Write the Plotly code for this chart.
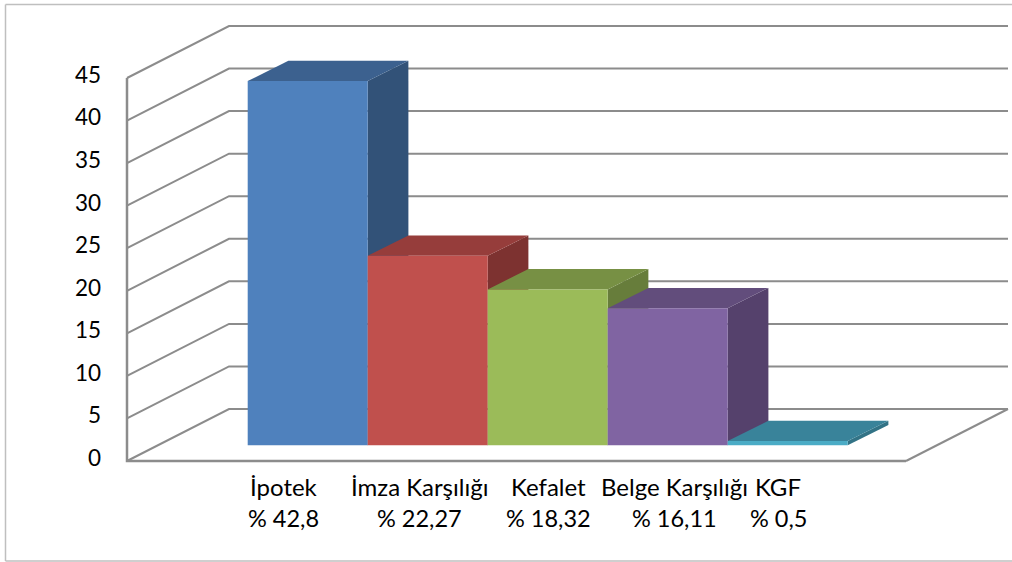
import plotly.graph_objects as go

# Teminat türlerine göre dağılım
categories = ["İpotek", "İmza Karşılığı", "Kefalet", "Belge Karşılığı", "KGF"]
share_labels = ["% 42,8", "% 22,27", "% 18,32", "% 16,11", "% 0,5"]
values = [42.8, 22.27, 18.32, 16.11, 0.5]
y_ticks = [0, 5, 10, 15, 20, 25, 30, 35, 40, 45]

front_colors = ["#4F81BD", "#C0504D", "#9BBB59", "#8064A2", "#4BACC6"]
top_colors = ["#3C618F", "#963D3B", "#779044", "#624D7C", "#39839A"]
side_colors = ["#325278", "#7D3230", "#677D3B", "#55416C", "#327386"]

# Category slots are one unit wide; label centres sit a little off the slots
label_centres = [0.30, 1.43, 2.51, 3.56, 4.42]

W, H = 1012, 562
AXIS_X0, AXIS_X1 = 127, 906
AXIS_Y0, AXIS_Y45 = 461, 78
SLOT_PX = 120
SLOT_START_PX = 247.7
PX_PER_VALUE = (AXIS_Y0 - AXIS_Y45) / 45

# The axes span the full canvas so the receding walls stay inside the plotting area
x_range = [-SLOT_START_PX / SLOT_PX, (W - SLOT_START_PX) / SLOT_PX]
y_range = [(AXIS_Y0 - H) / PX_PER_VALUE, AXIS_Y0 / PX_PER_VALUE]
front_left = (AXIS_X0 - SLOT_START_PX) / SLOT_PX
front_right = (AXIS_X1 - SLOT_START_PX) / SLOT_PX

# Oblique projection: how far the depth direction shifts things, in axis units
WALL_DX, WALL_DY = 102 / SLOT_PX, 52 / PX_PER_VALUE
BAR_DX, BAR_DY = 40.7 / SLOT_PX, 20.3 / PX_PER_VALUE
BAR_BASE = (AXIS_Y0 - 445.3) / PX_PER_VALUE

GRID = "#8C8C8C"
fig = go.Figure()

# Gridlines run along the side wall, then across the back wall
wall_x, wall_y = [], []
for t in y_ticks:
    wall_x += [front_left, front_left + WALL_DX, front_right + WALL_DX, None]
    wall_y += [t, t + WALL_DY, t + WALL_DY, None]
wall_x += [front_right, front_right + WALL_DX]
wall_y += [0, WALL_DY]
fig.add_trace(go.Scatter(x=wall_x, y=wall_y, mode="lines",
                         line=dict(color=GRID, width=2), hoverinfo="skip", showlegend=False))

# Value axis and the front edge of the floor
fig.add_trace(go.Scatter(x=[front_left, front_left, front_right], y=[y_ticks[-1], 0, 0], mode="lines",
                         line=dict(color=GRID, width=2.5), hoverinfo="skip", showlegend=False))

# Side and top faces, left to right so that later bars overlap earlier ones
for i, v in enumerate(values):
    top = BAR_BASE + v
    x0, x1 = i, i + 1
    fig.add_trace(go.Scatter(
        x=[x1, x1 + BAR_DX, x1 + BAR_DX, x1, x1],
        y=[BAR_BASE, BAR_BASE + BAR_DY, top + BAR_DY, top, BAR_BASE],
        mode="lines", fill="toself", fillcolor=side_colors[i],
        line=dict(width=0), hoverinfo="skip", showlegend=False))
    fig.add_trace(go.Scatter(
        x=[x0, x0 + BAR_DX, x1 + BAR_DX, x1, x0],
        y=[top, top + BAR_DY, top + BAR_DY, top, top],
        mode="lines", fill="toself", fillcolor=top_colors[i],
        line=dict(width=0), hoverinfo="skip", showlegend=False))

# Front faces on an overlaying pair of axes, above all the side and top faces
fig.add_trace(go.Bar(x=[i + 0.5 for i in range(len(values))], y=values, base=BAR_BASE,
                     width=1, marker=dict(color=front_colors, line=dict(width=0)),
                     xaxis="x2", yaxis="y2", showlegend=False))

annotations = []
for name, share, cx in zip(categories, share_labels, label_centres):
    for text, py, size in ((name, 486, 24), (share, 517.5, 23.5)):
        annotations.append(dict(x=cx, xref="x", y=(H - py) / H, yref="paper", text=text,
                                showarrow=False, xanchor="center", yanchor="middle",
                                font=dict(family="Lato", size=size, color="#000000")))

# Outer frame: left, top and bottom edges of the chart area
frame_line = dict(color="#BFBFBF", width=1.5)
shapes = [
    dict(type="line", xref="paper", yref="paper", x0=5.5 / W, x1=5.5 / W, y0=1 / H, y1=1 - 4.5 / H, line=frame_line),
    dict(type="line", xref="paper", yref="paper", x0=5.5 / W, x1=1, y0=1 - 4.5 / H, y1=1 - 4.5 / H, line=frame_line),
    dict(type="line", xref="paper", yref="paper", x0=5.5 / W, x1=1, y0=1 / H, y1=1 / H, line=frame_line),
]

fig.update_layout(
    template=None,
    width=W, height=H, margin=dict(l=0, r=0, t=0, b=0, pad=0),
    paper_bgcolor="#FFFFFF", plot_bgcolor="rgba(0,0,0,0)",
    font=dict(family="Lato", size=22.5, color="#000000"),
    showlegend=False, annotations=annotations, shapes=shapes,
    xaxis=dict(domain=[0, 1], range=x_range, showgrid=False, zeroline=False, automargin=False,
               showticklabels=False, ticks="", showline=False),
    yaxis=dict(domain=[0, 1], range=y_range, tickvals=y_ticks, showgrid=False, zeroline=False,
               automargin=False, ticks="", ticklabelstandoff=26, ticklabelshift=-3, showline=False,
               anchor="free", position=AXIS_X0 / W),
    xaxis2=dict(domain=[0, 1], range=x_range, overlaying="x", visible=False, automargin=False),
    yaxis2=dict(domain=[0, 1], range=y_range, overlaying="y", visible=False, anchor="x2", automargin=False),
)

fig.write_html("out.html")
